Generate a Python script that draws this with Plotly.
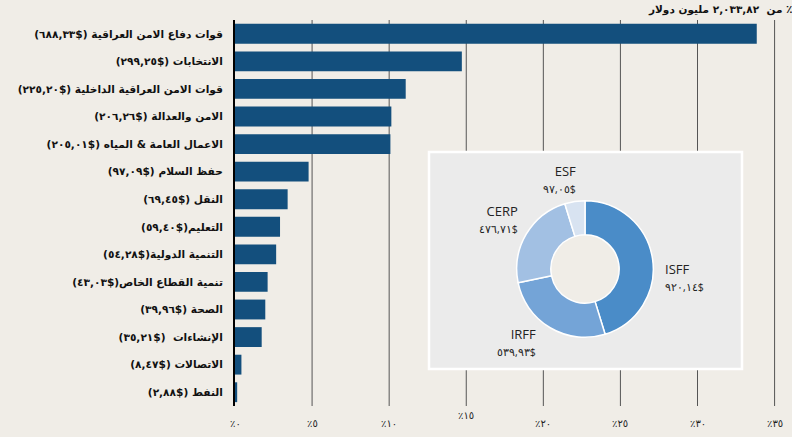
import plotly.graph_objects as go

# ---------------- data ----------------
categories = [
    "قوات دفاع الامن العراقية",
    "الانتخابات",
    "قوات الامن العراقية الداخلية",
    "الامن والعدالة",
    "الاعمال العامة & المياه",
    "حفظ السلام",
    "النقل",
    "التعليم",
    "التنمية الدولية",
    "تنمية القطاع الخاص",
    "الصحة",
    "الإنشاءات",
    "الاتصالات",
    "النفط",
]
values = [688.33, 299.25, 225.20, 206.26, 205.01, 97.09, 69.45, 59.40,
          54.28, 43.03, 39.96, 35.21, 8.47, 2.88]
label_gaps = [" ", " ", " ", " ", " ", " ", " ", "", "", "", " ", "  ", " ", " "]

fund_names = ["ISFF", "IRFF", "CERP", "ESF"]
fund_values = [920.14, 539.93, 476.71, 97.05]

tick_values = [0, 5, 10, 15, 20, 25, 30, 35]
tick_labels = ["٪٠", "٪٥", "٪١٠", "٪١٥", "٪٢٠", "٪٢٥", "٪٣٠", "٪٣٥"]

# ---------------- helpers ----------------
AR = str.maketrans("0123456789", "٠١٢٣٤٥٦٧٨٩")
RLM = "\u200f"


def ar_num(v, thousands=False):
    s = f"{v:,.2f}" if thousands else f"{v:.2f}"
    return s.replace(".", ",").translate(AR)


total = sum(values)
pct = [v / total * 100 for v in values]
bar_labels = [RLM + c + g + "($" + ar_num(v) + ")" + RLM
              for c, g, v in zip(categories, label_gaps, values)]

BG = "#f0ede7"
BAR = "#134f7d"
L, R, T, B = 235, 2, 20, 31
W, H = 792, 437
PW, PH = W - L - R, H - T - B


def fx(px):
    return (px - L) / PW


def fy(py):
    return (T + PH - py) / PH


fig = go.Figure()

fig.add_trace(go.Bar(
    x=pct, y=bar_labels, orientation="h",
    marker=dict(color=BAR, line=dict(width=0)),
    width=0.72, hoverinfo="skip", showlegend=False,
))

fig.add_trace(go.Pie(
    labels=fund_names, values=fund_values,
    hole=0.5, sort=False, direction="clockwise", rotation=0,
    marker=dict(colors=["#4a8cc8", "#74a4d7", "#a2c0e3", "#d8e3f1"],
                line=dict(color="white", width=1.5)),
    textinfo="none", hoverinfo="skip", showlegend=False,
    domain=dict(x=[fx(585 - 68.3), fx(585 + 68.3)],
                y=[fy(269 + 68.3), fy(269 - 68.3)]),
))

# vertical grid lines (drawn as shapes so the inset box can cover them)
shapes = [
    dict(type="line", xref="x", yref="paper", layer="below",
         x0=v, x1=v, y0=0, y1=1, line=dict(color="#555", width=1))
    for v in tick_values[1:]
]
shapes += [
    dict(type="rect", xref="paper", yref="paper", layer="below",
         x0=fx(429), x1=fx(742), y0=fy(369), y1=fy(152),
         fillcolor="#ebebeb", line=dict(color="white", width=2.5)),
    dict(type="circle", xref="paper", yref="paper", layer="below",
         x0=fx(585 - 34.5), x1=fx(585 + 34.5), y0=fy(269 + 34.5), y1=fy(269 - 34.5),
         fillcolor=BG, line=dict(width=0)),
]

annotations = []
for v, t in zip(tick_values, tick_labels):
    annotations.append(dict(
        x=v, y=0, xref="x", yref="paper", text=t, showarrow=False,
        xanchor="center", yanchor="top", yshift=(-2 if v == 15 else -10),
        font=dict(family="DejaVu Sans", size=10, color="#222"),
    ))

# title (right-to-left): "٪ من <total> مليون دولار"
annotations.append(dict(
    x=1, y=1, xref="paper", yref="paper", xanchor="right", yanchor="bottom",
    xshift=4, yshift=2, showarrow=False,
    text=RLM + "٪ من  " + ar_num(total, thousands=True) + " مليون دولار" + RLM,
    font=dict(family="DejaVu Sans", size=10.5, color="#111", weight="bold"),
))

pie_label_pos = {
    "ISFF": (663, 277, "left"),
    "IRFF": (538, 342, "right"),
    "CERP": (520, 219, "right"),
    "ESF": (578, 179, "right"),
}
for n, v in zip(fund_names, fund_values):
    px, py, side = pie_label_pos[n]
    annotations.append(dict(
        x=fx(px), y=fy(py), xref="paper", yref="paper", showarrow=False,
        xanchor=side, yanchor="middle", align=side,
        text=n + "<br><span style='font-size:10.5px'>" + ar_num(v) + "$</span>",
        font=dict(family="Open Sans", size=13, color="#222"),
    ))

fig.update_layout(
    width=W, height=H,
    margin=dict(l=L, r=R, t=T, b=B, pad=0),
    paper_bgcolor=BG, plot_bgcolor=BG,
    shapes=shapes, annotations=annotations,
    font=dict(family="DejaVu Sans"),
)

fig.update_xaxes(
    range=[0, 36], tickvals=tick_values, showticklabels=False,
    showgrid=False, zeroline=False, showline=False, ticks="", fixedrange=True,
)
fig.update_yaxes(
    type="category", autorange="reversed", automargin=False,
    showline=True, linecolor="black", linewidth=2, showgrid=False,
    ticks="outside", ticklen=8, tickcolor="rgba(0,0,0,0)",
    tickfont=dict(family="DejaVu Sans", size=10.6, color="#111", weight="bold"),
    fixedrange=True,
)

fig.write_html(
    "out.html",
    config={"displayModeBar": False},
    post_script="document.body.style.margin='0';"
                "document.body.style.background='" + BG + "';",
)
